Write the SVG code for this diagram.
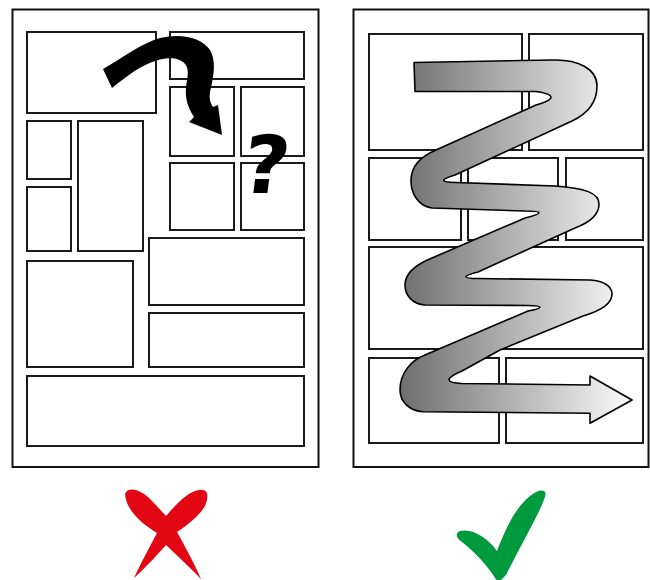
<svg xmlns="http://www.w3.org/2000/svg" width="650" height="580" viewBox="0 0 650 580">
<defs>
<style>
.page{fill:#fff;stroke:#111;stroke-width:2}
.panel{fill:#fff;stroke:#1a1a1a;stroke-width:2}
.q{font-family:"DejaVu Sans","Liberation Sans",sans-serif;font-weight:bold;font-size:80px;fill:#000}
</style>
<linearGradient id="flow" gradientUnits="userSpaceOnUse" x1="400" y1="0" x2="632" y2="0">
<stop offset="0" stop-color="#6e6e6e"/>
<stop offset="1" stop-color="#fbfbfb"/>
</linearGradient>
</defs>
<rect width="650" height="580" fill="#fff"/>
<g id="bad-page">
<rect class="page" x="12.5" y="9.5" width="306" height="457.5"/>
<rect class="panel" x="27" y="32" width="129" height="81"/>
<rect class="panel" x="170" y="32" width="134" height="47"/>
<rect class="panel" x="170" y="87" width="64" height="69"/>
<rect class="panel" x="241" y="87" width="63" height="69"/>
<rect class="panel" x="170" y="163" width="64" height="67"/>
<rect class="panel" x="241" y="163" width="63" height="67"/>
<rect class="panel" x="27" y="121" width="44" height="58"/>
<rect class="panel" x="27" y="187" width="44" height="64"/>
<rect class="panel" x="78" y="121" width="65" height="130"/>
<rect class="panel" x="149" y="238" width="155" height="67"/>
<rect class="panel" x="27" y="261" width="106" height="106"/>
<rect class="panel" x="149" y="313" width="155" height="54"/>
<rect class="panel" x="27" y="376" width="277" height="70"/>
</g>
<g id="good-page">
<rect class="page" x="353.5" y="9.5" width="295" height="457.5"/>
<rect class="panel" x="369" y="34" width="153" height="116"/>
<rect class="panel" x="529" y="34" width="114" height="116"/>
<rect class="panel" x="369" y="158" width="92" height="82"/>
<rect class="panel" x="468" y="158" width="90" height="82"/>
<rect class="panel" x="566" y="158" width="77" height="82"/>
<rect class="panel" x="369" y="247" width="274" height="102"/>
<rect class="panel" x="369" y="358" width="130" height="85"/>
<rect class="panel" x="506" y="358" width="137" height="85"/>
</g>
<g id="confusing-path">
<path fill="#000" d="M 103,69 C 124,57 140,44 160,38 C 181,33 201,37 210,50 C 217,62 213,80 210,92 C 209,98 210,103 213,107 L 218,105 L 222,135 L 189,122 L 194,117 C 188,108 185,98 186,88 C 187,78 190,70 185,64 C 180,58 170,57 158,60 C 140,65 126,77 112,88 Z"/>
<text class="q" transform="translate(263,193) skewX(-7)" text-anchor="middle">?</text>
</g>
<g id="reading-path">
<path fill="url(#flow)" stroke="#000" stroke-width="1.6" stroke-linejoin="round" d="M 414,62.5 L 552,60 C 578,59 597,69 597,86 C 597,101 589,113 572,121 L 455,175 Q 432,182 456,182.5 L 555,186 C 585,188 599,193 599,204 C 599,214 591,222 575,228 L 478,272 Q 454,278 478,278.5 L 590,280 C 605,281 612,287 612,294 C 612,304 600,311 583,316 L 500,350 L 462,371 Q 436,382 462,383.5 L 590,385 L 590,376 L 632,400 L 590,423.3 L 590,413.3 L 423,411.7 C 410,411 400,402 400,390 C 400,372 412,360 425,355 L 528,311 Q 552,306 528,305.5 L 425,305 C 412,304 405,295 405,285 C 405,272 417,264 432,258 L 525,218 Q 553,211 525,211 L 432,208 C 418,206 411,193 411,181 C 411,166 420,157 436,150 L 536,105 Q 566,96 536,91.5 L 415,91.5 Z"/>
</g>
<g id="cross">
<path fill="#e30613" d="M 125,494 C 128,486 141,489 152,501 C 158,507 162,512 166,516 C 178,502 192,488 203,490 C 209,491 208,499 205,506 C 199,516 189,524 177,532 C 186,548 195,565 201,579 C 190,568 178,556 166,545 C 156,556 145,568 134,578 C 140,565 148,550 157,533 C 142,524 126,510 125,494 Z"/>
</g>
<g id="check">
<path fill="#009a3e" d="M 460,531 C 472,528 488,538 497,551 C 505,530 515,508 530,496 C 538,489 548,488 545,497 C 540,512 521,545 506,575 L 498,583 C 490,568 475,552 462,542 C 456,538 455,533 460,531 Z"/>
</g>
</svg>
